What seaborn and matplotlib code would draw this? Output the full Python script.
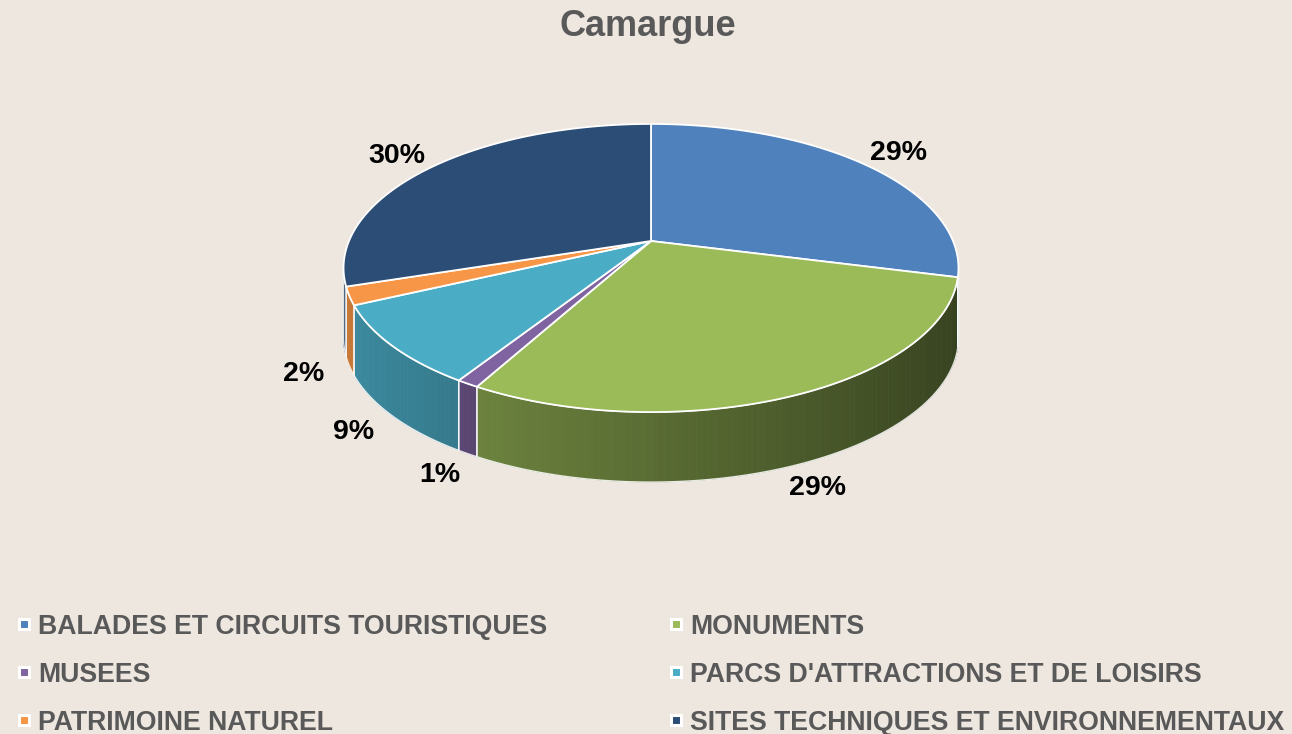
import numpy as np
import matplotlib
matplotlib.use("Agg")
import matplotlib.pyplot as plt
import seaborn as sns
from matplotlib.patches import Polygon
from matplotlib.colors import to_rgb

# ---------------- data ----------------
title = "Camargue"
categories = ["BALADES ET CIRCUITS TOURISTIQUES", "MONUMENTS", "MUSEES",
              "PARCS D'ATTRACTIONS ET DE LOISIRS", "PATRIMOINE NATUREL",
              "SITES TECHNIQUES ET ENVIRONNEMENTAUX"]
values = [29, 29, 1, 9, 2, 30]
colors = ["#4F81BD", "#9BBB59", "#8064A2", "#4BACC6", "#F79646", "#2C4D75"]

# ---------------- style ----------------
BG = "#EDE7E0"
sns.set_theme(style="white", rc={"figure.facecolor": BG, "axes.facecolor": BG})
plt.rcParams['font.family'] = ['Liberation Sans', 'DejaVu Sans']

fig = plt.figure(figsize=(12.92, 7.34), dpi=100, facecolor=BG)
ax = fig.add_axes([0, 0, 1, 1])
ax.set_xlim(0, 1292)
ax.set_ylim(734, 0)
ax.axis('off')

# pie geometry (perspective projection of a tilted disc)
CX, CY, RX, RY, K, DEPTH = 651, 241, 302, 139, 0.1875, 70


def proj(theta, rho=1.0):
    u = rho * np.sin(theta)
    v = -rho * np.cos(theta)
    s = 1.0 / (1.0 - K * v)
    return CX + RX * u * s, CY + RY * v * s


frac = np.array(values, dtype=float) / np.sum(values)
bounds = np.concatenate([[0.0], np.cumsum(frac)]) * 2 * np.pi
th_r = np.arccos(-K)
th_l = 2 * np.pi - th_r


def shade(color, u):
    f = np.clip(0.58 - 0.24 * u, 0.3, 0.85)
    return tuple(np.array(to_rgb(color)) * f)


# side walls
for i, c in enumerate(colors):
    a = max(bounds[i], th_r)
    b = min(bounds[i + 1], th_l)
    if a >= b:
        continue
    n = max(3, int((b - a) / np.radians(1.0)) + 2)
    ts = np.linspace(a, b, n)
    xs, ys = proj(ts)
    for j in range(n - 1):
        um = np.sin(0.5 * (ts[j] + ts[j + 1]))
        col = shade(c, um)
        quad = [(xs[j], ys[j]), (xs[j + 1], ys[j + 1]),
                (xs[j + 1], ys[j + 1] + DEPTH), (xs[j], ys[j] + DEPTH)]
        ax.add_patch(Polygon(quad, closed=True, facecolor=col, edgecolor=col,
                             lw=0.6, zorder=2))
    outline = list(zip(xs, ys)) + list(zip(xs[::-1], ys[::-1] + DEPTH))
    ax.add_patch(Polygon(outline, closed=True, fill=False, edgecolor="white",
                         lw=1.0, alpha=0.85, zorder=3))

# top faces
for i, c in enumerate(colors):
    ts = np.linspace(bounds[i], bounds[i + 1], max(3, int((bounds[i + 1] - bounds[i]) / np.radians(0.5)) + 2))
    xs, ys = proj(ts)
    pts = [(CX, CY)] + list(zip(xs, ys))
    ax.add_patch(Polygon(pts, closed=True, facecolor=c, edgecolor="white",
                         lw=1.3, joinstyle='round', zorder=4))

# data labels
for i, val in enumerate(values):
    mid = 0.5 * (bounds[i] + bounds[i + 1])
    u, v = np.sin(mid), -np.cos(mid)
    x, y = proj(mid, 1.06)
    if v > 0:
        y += DEPTH
    x += u * 28
    y += v * 13
    ax.text(x, y, f"{val:.0f}%", ha='center', va='center', fontsize=20.5,
            fontweight='bold', color='black', zorder=6)

# title
ax.text(648, 27, title, ha='center', va='center', fontsize=26,
        fontweight='bold', color='#595959')

# legend (row-wise, two columns)
col_x = [24, 676]
for i, (name, c) in enumerate(zip(categories, colors)):
    row, col = divmod(i, 2)
    x0 = col_x[col]
    y0 = 624 + 48 * row
    ax.plot([x0], [y0], marker='s', ms=6.5, mfc=c, mec='white', mew=2.2,
            ls='none', clip_on=False, zorder=6)
    ax.text(x0 + 14, y0, name, ha='left', va='center_baseline', fontsize=19.2,
            fontweight='bold', color='#595959', clip_on=False)

fig.savefig("out.png", dpi=100, facecolor=BG)
